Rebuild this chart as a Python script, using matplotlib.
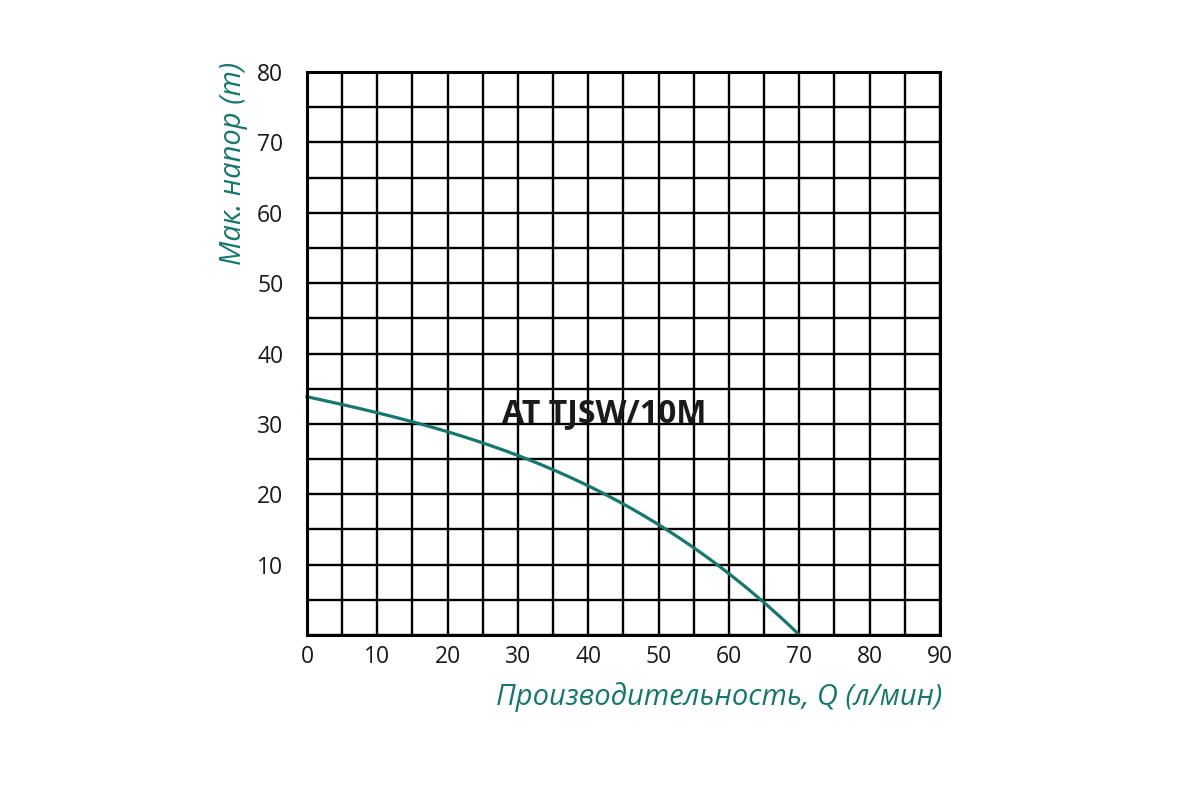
import matplotlib
matplotlib.use('Agg')
import matplotlib.pyplot as plt
import numpy as np

plt.rcParams['font.family'] = ['Open Sans', 'DejaVu Sans']

# curve
q = [0, 10, 15.4, 20, 25, 30.3, 35.3, 40.2, 45.2, 50.2, 55.2, 60.2, 64.9, 69.8]
h = [33.8, 31.7, 30.1, 29, 27.3, 25.3, 23.4, 21, 18.5, 15.4, 12.4, 8.5, 5, 0]
x_ticks = [0, 10, 20, 30, 40, 50, 60, 70, 80, 90]
y_ticks = [10, 20, 30, 40, 50, 60, 70, 80]
model = 'AT TJSW/10M'
teal = '#17776c'

fig = plt.figure(figsize=(12, 8), dpi=100)
ax = fig.add_axes([0.2558, 0.20625, 0.5275, 0.70375])
ax.set_xlim(0, 90)
ax.set_ylim(0, 80)
ax.set_xticks(np.arange(0, 91, 5), minor=True)
ax.set_yticks(np.arange(0, 81, 5), minor=True)
ax.set_xticks(x_ticks)
ax.set_yticks(y_ticks)
ax.grid(True, which='both', color='black', lw=1.7)
ax.set_axisbelow(True)
for s in ax.spines.values():
    s.set_linewidth(2.2)
ax.tick_params(which='both', length=0, labelsize=16.5, colors='#1a1a1a')
ax.tick_params(axis='y', pad=17)
ax.tick_params(axis='x', pad=7)

# smooth cubic through the read points
coef = np.polyfit(q, h, 3)
qq = np.linspace(0, 69.8, 200)
ax.plot(qq, np.polyval(coef, qq), color=teal, lw=2.3, clip_on=False)

ax.text(42.2, 31.5, model, fontsize=23, fontweight='bold', ha='center', va='center', color='#1a1a1a')
fig.text(942/1200, 1 - 697/800, 'Производительность, Q (л/мин)', fontsize=21,
         style='italic', color=teal, ha='right', va='center')
fig.text(234/1200, 1 - 62/800, 'Мак. напор (m)', fontsize=21, style='italic',
         color=teal, rotation=90, ha='center', va='top')

fig.savefig('out.png')
